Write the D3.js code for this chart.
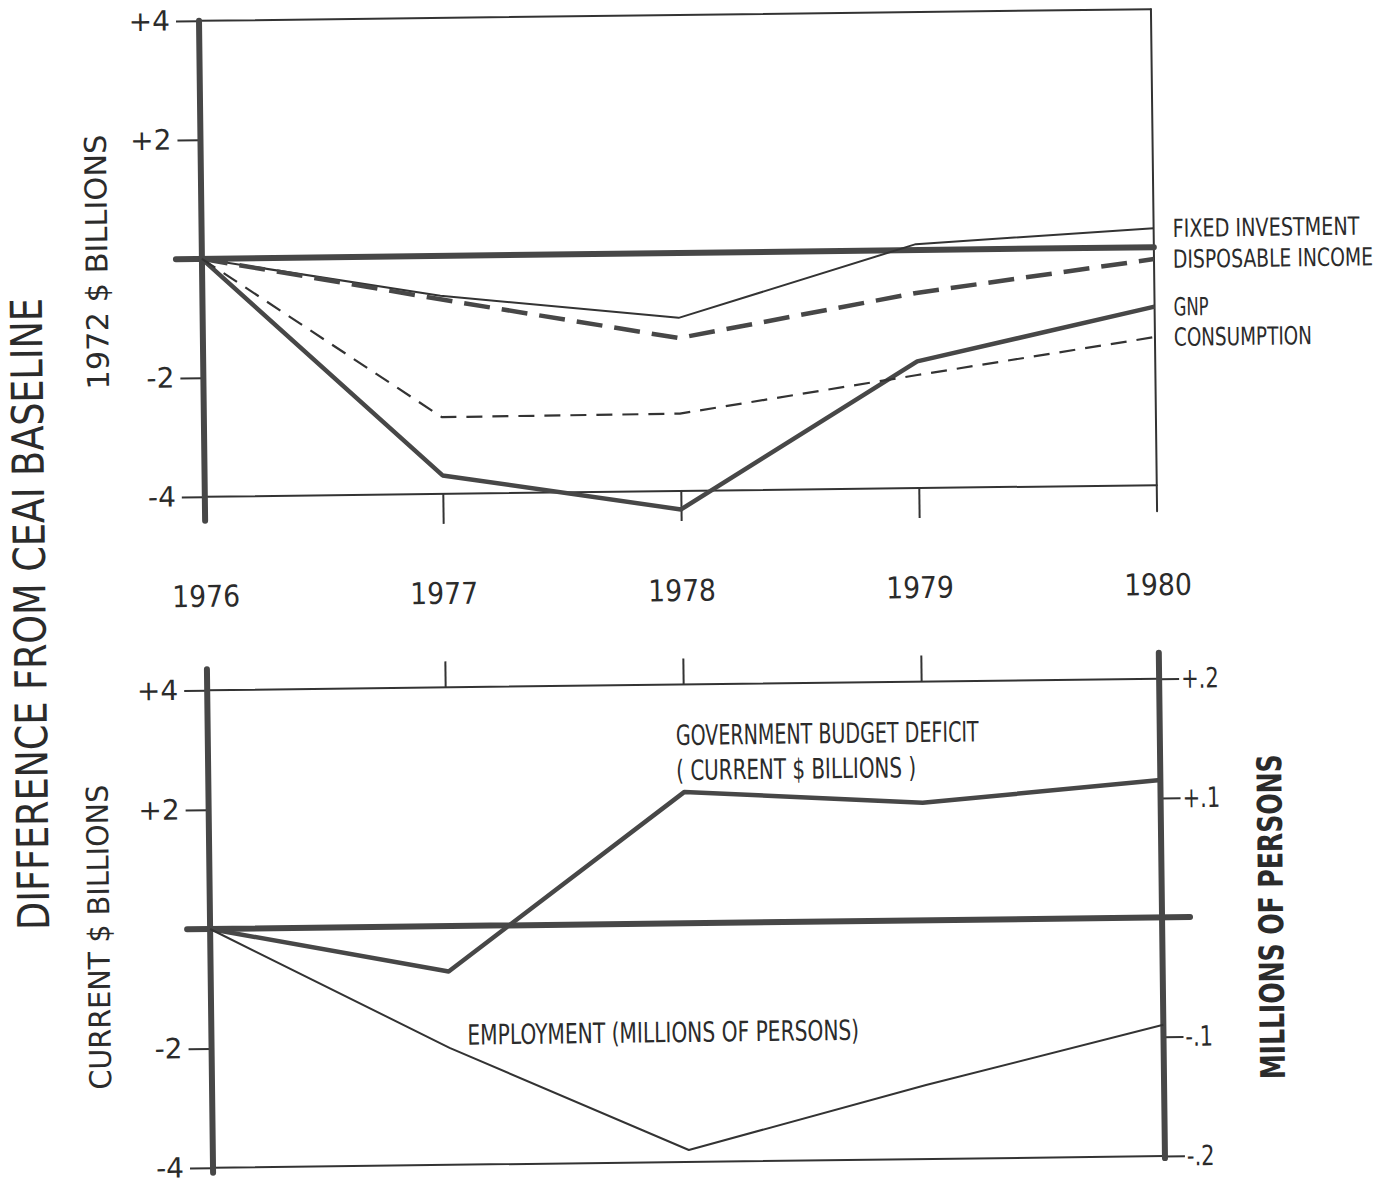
<!DOCTYPE html>
<html>
<head>
<meta charset="utf-8">
<script src="https://cdn.jsdelivr.net/npm/d3@7"></script>
<style>
  body { margin: 0; background: #fff; }
  text { font-family: "DejaVu Sans", "Liberation Sans", sans-serif; fill: #2b2b2b; }
</style>
</head>
<body>
<script>
// values (difference from baseline)
var years = [1976, 1977, 1978, 1979, 1980];
var fixedInvestment = [0, -0.67, -1.09, 0.10, 0.32];
var disposableIncome = [0, -0.73, -1.43, -0.72, -0.20];
var gnp = [0, -3.69, -4.31, -1.87, -1.00];
var consumption = [0, -2.71, -2.70, -2.10, -1.51];
var budgetDeficit = [0, -0.76, 2.20, 1.97, 2.30];
var employment = [0, -0.102, -0.190, -0.138, -0.090];   // millions of persons

var billionTicks = [4, 2, -2, -4];
var personTicks = [0.2, 0.1, -0.1, -0.2];
var innerYears = [1977, 1978, 1979];

var topLabels = ["FIXED INVESTMENT", "DISPOSABLE INCOME", "GNP", "CONSUMPTION"];

var W = 1390, H = 1184;
var INK = "#333", THICK = "#474747";

var svg = d3.select("body").append("svg")
    .attr("width", W)
    .attr("height", H);

// the scan is tilted a little, so the whole drawing is too
var g = svg.append("g").attr("transform", "rotate(-0.7,680,590)");

var x = d3.scaleLinear().domain([1976, 1980]).range([206, 1158]);
var yTop = d3.scaleLinear().domain([-4, 4]).range([491, 15]);
var yBot = d3.scaleLinear().domain([-4, 4]).range([1162, 684.5]);
var yPers = d3.scaleLinear().domain([-0.2, 0.2]).range([1162, 684.5]);

function fmtBillions(d) { return (d > 0 ? "+" : "-") + Math.abs(d); }
function fmtPersons(d) { return (d > 0 ? "+" : "-") + "." + Math.round(Math.abs(d) * 10); }

function styleAxis(sel, width) {
  sel.select(".domain").remove();
  sel.selectAll(".tick line").attr("stroke", INK).attr("stroke-width", width || 2);
  sel.selectAll(".tick text").attr("fill", "#2b2b2b");
}

function seg(x1, y1, x2, y2, w, col) {
  g.append("line")
    .attr("x1", x1).attr("y1", y1).attr("x2", x2).attr("y2", y2)
    .attr("stroke", col || INK)
    .attr("stroke-width", w)
    .attr("stroke-linecap", "round");
}

// condensed lettering: squeeze a text horizontally to a given width
function squeezed(parent, tx, ty, rot, txt, size, width, anchor, weight) {
  var t = parent.append("text")
      .attr("font-size", size)
      .attr("font-weight", weight || "normal")
      .attr("text-anchor", anchor || "start")
      .text(txt);
  var k = width / t.node().getComputedTextLength();
  t.attr("transform", "translate(" + tx + "," + ty + ")" + (rot ? " rotate(" + rot + ")" : "") + " scale(" + k + ",1)");
  return t;
}

// ---------------- top panel ----------------
seg(x(1976), yTop(4), x(1980), yTop(4), 2);
seg(x(1980), yTop(4), x(1980), yTop(-4) + 26, 2);
seg(x(1976), yTop(-4), x(1980), yTop(-4), 2);

var topLeft = g.append("g")
    .attr("transform", "translate(" + x(1976) + ",0)")
    .call(d3.axisLeft(yTop).tickValues(billionTicks).tickSize(23).tickPadding(6).tickFormat(fmtBillions));
styleAxis(topLeft);
topLeft.selectAll(".tick text").attr("font-size", 28);

var topBottom = g.append("g")
    .attr("transform", "translate(0," + yTop(-4) + ")")
    .call(d3.axisBottom(x).tickValues(innerYears).tickSize(30).tickFormat(""));
styleAxis(topBottom);

// zero line and left axis
seg(180, yTop(0), x(1980), yTop(0), 6, THICK);
seg(x(1976), yTop(4), x(1976), yTop(-4) + 24, 6, THICK);

var lineTop = d3.line()
    .x(function (d, i) { return x(years[i]); })
    .y(function (d) { return yTop(d); });

var topSeries = [
  { v: fixedInvestment, w: 2, dash: null },
  { v: disposableIncome, w: 4.5, dash: "26,12" },
  { v: gnp, w: 4.5, dash: null },
  { v: consumption, w: 2.2, dash: "16,10" }
];

g.selectAll("path.top")
  .data(topSeries)
  .enter().append("path")
    .attr("class", "top")
    .attr("d", function (d) { return lineTop(d.v); })
    .attr("fill", "none")
    .attr("stroke", function (d) { return d.w > 3 ? THICK : INK; })
    .attr("stroke-width", function (d) { return d.w; })
    .attr("stroke-dasharray", function (d) { return d.dash; })
    .attr("stroke-linejoin", "round");

var labelWidths = [187, 200, 35, 138];
topSeries.forEach(function (s, i) {
  squeezed(g, x(1980) + 19, yTop(s.v[s.v.length - 1]) + 9, 0, topLabels[i], 25, labelWidths[i]);
});

// year labels between the panels
years.forEach(function (yr) {
  squeezed(g, x(yr), 601, 0, String(yr), 30, 68, "middle");
});

// ---------------- bottom panel ----------------
seg(x(1976), yBot(4), x(1980), yBot(4), 2);
seg(x(1976), yBot(-4), x(1980), yBot(-4), 2);

var botLeft = g.append("g")
    .attr("transform", "translate(" + x(1976) + ",0)")
    .call(d3.axisLeft(yBot).tickValues(billionTicks).tickSize(23).tickPadding(6).tickFormat(fmtBillions));
styleAxis(botLeft);
botLeft.selectAll(".tick text").attr("font-size", 28);

var botRight = g.append("g")
    .attr("transform", "translate(" + x(1980) + ",0)")
    .call(d3.axisRight(yPers).tickValues(personTicks).tickSize(20).tickPadding(2).tickFormat(fmtPersons));
styleAxis(botRight);
botRight.selectAll(".tick text")
    .attr("font-size", 28)
    .attr("transform", "scale(0.75,1)")
    .attr("x", 22 / 0.75);

var botTop = g.append("g")
    .attr("transform", "translate(0," + yBot(4) + ")")
    .call(d3.axisTop(x).tickValues(innerYears).tickSize(26).tickFormat(""));
styleAxis(botTop);

seg(183, yBot(0), x(1980) + 28, yBot(0), 6, THICK);
seg(x(1976), yBot(4) - 21, x(1976), yBot(-4) + 5, 6, THICK);
seg(x(1980), yBot(4) - 26, x(1980), yBot(-4) + 2, 6, THICK);

var lineBot = d3.line()
    .x(function (d, i) { return x(years[i]); })
    .y(function (d) { return yBot(d); });
var linePers = d3.line()
    .x(function (d, i) { return x(years[i]); })
    .y(function (d) { return yPers(d); });

g.append("path")
    .attr("d", lineBot(budgetDeficit))
    .attr("fill", "none")
    .attr("stroke", THICK)
    .attr("stroke-width", 4.5)
    .attr("stroke-linejoin", "round");

g.append("path")
    .attr("d", linePers(employment))
    .attr("fill", "none")
    .attr("stroke", INK)
    .attr("stroke-width", 2)
    .attr("stroke-linejoin", "round");

squeezed(g, x(1978) - 8, 745, 0, "GOVERNMENT BUDGET DEFICIT", 28, 303);
squeezed(g, x(1978) - 8, 780, 0, "( CURRENT $ BILLIONS )", 28, 240);
squeezed(g, 462, 1042, 0, "EMPLOYMENT  (MILLIONS OF PERSONS)", 28, 392);

// ---------------- axis titles ----------------
function vtitle(cx, cy, txt, size, len, weight) {
  squeezed(g, cx, cy, -90, txt, size, len, "middle", weight)
    .attr("dominant-baseline", "central");
}
vtitle(30, 606, "DIFFERENCE FROM CEAI BASELINE", 44, 632);
vtitle(101, 255, "1972 $ BILLIONS", 30, 255);
vtitle(95, 930, "CURRENT $ BILLIONS", 30, 305);
vtitle(1267, 924, "MILLIONS OF PERSONS", 34, 325, "bold");
</script>
</body>
</html>
